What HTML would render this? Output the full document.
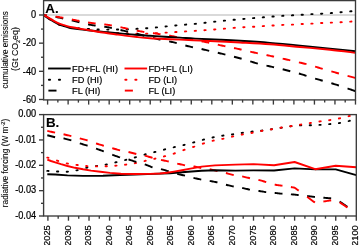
<!DOCTYPE html>
<html><head><meta charset="utf-8"><title>chart</title>
<style>html,body{margin:0;padding:0;background:#fff;width:359px;height:245px;overflow:hidden}svg{display:block;will-change:transform}</style>
</head><body>
<svg width="359" height="245" viewBox="0 0 359 245" font-family='"Liberation Sans", sans-serif'>
<style>text{stroke:#000;stroke-width:0.2px;paint-order:stroke;stroke-linejoin:round}</style>
<rect width="359" height="245" fill="#fff"/>
<line x1="43.6" y1="15" x2="355.5" y2="15" stroke="#b4b4b4" stroke-width="1.1"/>
<g clip-path="url(#clipA)">
<path d="M48.87,18.61 L49.52,19.08 L50.17,19.55 M58.59,24.26 L59.24,24.52 L59.89,24.76 M68.31,26.89 L68.96,27.01 L69.61,27.12 M78.03,28.22 L78.68,28.28 L79.33,28.34 M87.75,28.86 L88.40,28.90 L89.05,28.94 M97.47,29.46 L98.12,29.49 L98.77,29.51 M107.19,29.60 L107.84,29.60 L108.49,29.60 M116.91,29.53 L117.56,29.52 L118.21,29.50 M126.63,29.25 L127.28,29.23 L127.93,29.20 M136.35,28.85 L137.00,28.82 L137.65,28.78 M146.07,28.27 L146.72,28.23 L147.37,28.18 M155.79,27.48 L156.44,27.42 L157.09,27.36 M165.51,26.50 L166.16,26.43 L166.81,26.37 M175.23,25.50 L175.88,25.44 L176.53,25.38 M184.95,24.68 L185.60,24.62 L186.25,24.57 M194.67,23.92 L195.32,23.86 L195.97,23.80 M204.39,22.84 L205.04,22.76 L205.69,22.69 M214.11,21.74 L214.76,21.67 L215.41,21.60 M223.83,20.73 L224.48,20.67 L225.13,20.61 M233.55,19.81 L234.20,19.75 L234.85,19.70 M243.27,18.97 L243.92,18.92 L244.57,18.86 M252.99,18.17 L253.64,18.12 L254.29,18.07 M262.71,17.37 L263.36,17.31 L264.01,17.26 M272.43,16.57 L273.08,16.52 L273.73,16.47 M282.15,15.85 L282.80,15.81 L283.45,15.77 M291.87,15.35 L292.52,15.32 L293.17,15.28 M301.59,14.77 L302.24,14.73 L302.89,14.69 M311.31,14.16 L311.96,14.12 L312.61,14.09 M321.03,13.74 L321.68,13.71 L322.33,13.67 M330.75,13.08 L331.40,13.03 L332.05,12.98 M340.47,12.26 L341.12,12.21 L341.77,12.15 M350.19,11.37 L350.84,11.31 L351.49,11.24 " fill="none" stroke="#000" stroke-width="1.9" stroke-linecap="round"/>
<path d="M48.87,18.61 L49.52,19.08 L50.17,19.55 M58.59,24.25 L59.24,24.51 L59.89,24.76 M68.31,27.17 L68.96,27.31 L69.61,27.45 M78.03,28.74 L78.68,28.83 L79.33,28.91 M87.75,30.01 L88.40,30.09 L89.05,30.18 M97.47,31.29 L98.12,31.37 L98.77,31.45 M107.19,32.33 L107.84,32.39 L108.49,32.44 M116.91,32.97 L117.56,33.00 L118.21,33.04 M126.63,33.37 L127.28,33.39 L127.93,33.41 M136.35,33.59 L137.00,33.60 L137.65,33.60 M146.07,33.62 L146.72,33.61 L147.37,33.59 M155.79,33.25 L156.44,33.21 L157.09,33.18 M165.51,32.66 L166.16,32.62 L166.81,32.58 M175.23,32.07 L175.88,32.03 L176.53,31.99 M184.95,31.46 L185.60,31.42 L186.25,31.38 M194.67,30.89 L195.32,30.84 L195.97,30.80 M204.39,30.19 L205.04,30.14 L205.69,30.09 M214.11,29.50 L214.76,29.45 L215.41,29.40 M223.83,28.71 L224.48,28.66 L225.13,28.61 M233.55,27.90 L234.20,27.85 L234.85,27.80 M243.27,27.25 L243.92,27.21 L244.57,27.17 M252.99,26.75 L253.64,26.71 L254.29,26.68 M262.71,26.15 L263.36,26.11 L264.01,26.07 M272.43,25.55 L273.08,25.51 L273.73,25.47 M282.15,24.94 L282.80,24.90 L283.45,24.88 M291.87,24.64 L292.52,24.61 L293.17,24.58 M301.59,24.06 L302.24,24.02 L302.89,23.99 M311.31,23.65 L311.96,23.62 L312.61,23.59 M321.03,23.04 L321.68,23.01 L322.33,22.97 M330.75,22.64 L331.40,22.62 L332.05,22.59 M340.47,22.24 L341.12,22.20 L341.77,22.17 M350.19,21.65 L350.84,21.60 L351.49,21.56 " fill="none" stroke="#f00" stroke-width="1.9" stroke-linecap="round"/>
<path d="M43.60,15.00 L44.45,15.13 L45.29,15.26 L46.14,15.40 L46.98,15.53 M55.60,16.92 L56.55,17.11 L57.50,17.30 L58.45,17.49 L59.40,17.69 L60.35,17.89 L61.30,18.09 L62.25,18.30 L63.20,18.50 M71.82,20.45 L72.77,20.67 L73.72,20.89 L74.67,21.11 L75.62,21.34 L76.57,21.56 L77.52,21.79 L78.47,22.01 L79.42,22.25 M88.04,24.35 L88.99,24.55 L89.94,24.74 L90.89,24.93 L91.84,25.10 L92.79,25.26 L93.74,25.42 L94.69,25.55 L95.64,25.67 M104.26,26.75 L105.21,26.87 L106.16,27.01 L107.11,27.15 L108.06,27.31 L109.01,27.48 L109.96,27.67 L110.91,27.88 L111.86,28.09 M120.48,30.03 L121.43,30.24 L122.38,30.46 L123.33,30.67 L124.28,30.89 L125.23,31.10 L126.18,31.32 L127.13,31.53 L128.08,31.75 M136.70,33.79 L137.65,34.02 L138.60,34.25 L139.55,34.49 L140.50,34.73 L141.45,34.97 L142.40,35.21 L143.35,35.46 L144.30,35.71 M152.92,37.93 L153.87,38.17 L154.82,38.39 L155.77,38.62 L156.72,38.84 L157.67,39.05 L158.62,39.26 L159.57,39.47 L160.52,39.67 M169.14,41.41 L170.09,41.59 L171.04,41.78 L171.99,41.98 L172.94,42.19 L173.89,42.41 L174.84,42.64 L175.79,42.88 L176.74,43.13 M185.36,45.47 L186.31,45.73 L187.26,45.97 L188.21,46.21 L189.16,46.44 L190.11,46.65 L191.06,46.86 L192.01,47.06 L192.96,47.26 M201.58,49.05 L202.53,49.27 L203.48,49.48 L204.43,49.70 L205.38,49.92 L206.33,50.15 L207.28,50.37 L208.23,50.59 L209.18,50.81 M217.80,52.78 L218.75,53.00 L219.70,53.23 L220.65,53.46 L221.60,53.69 L222.55,53.92 L223.50,54.16 L224.45,54.40 L225.40,54.64 M234.02,56.78 L234.97,57.01 L235.92,57.24 L236.87,57.48 L237.82,57.72 L238.77,57.97 L239.72,58.22 L240.67,58.49 L241.62,58.76 M250.24,61.37 L251.19,61.65 L252.14,61.94 L253.09,62.23 L254.04,62.51 L254.99,62.80 L255.94,63.08 L256.89,63.35 L257.84,63.62 M266.46,65.65 L267.41,65.85 L268.36,66.05 L269.31,66.25 L270.26,66.46 L271.21,66.66 L272.16,66.87 L273.11,67.07 L274.06,67.27 M282.68,69.27 L283.63,69.51 L284.58,69.76 L285.53,70.02 L286.48,70.27 L287.43,70.52 L288.38,70.77 L289.33,71.02 L290.28,71.27 M298.90,73.49 L299.85,73.76 L300.80,74.04 L301.75,74.33 L302.70,74.63 L303.65,74.93 L304.60,75.24 L305.55,75.56 L306.50,75.87 M315.12,78.56 L316.07,78.84 L317.02,79.13 L317.97,79.41 L318.92,79.69 L319.87,79.96 L320.82,80.24 L321.77,80.50 L322.72,80.77 M331.34,83.20 L332.29,83.48 L333.24,83.76 L334.19,84.05 L335.14,84.34 L336.09,84.64 L337.04,84.94 L337.99,85.24 L338.94,85.55 M347.56,88.46 L348.51,88.79 L349.46,89.12 L350.41,89.45 L351.36,89.77 L352.31,90.10 L353.26,90.43 L354.21,90.76 L355.16,91.08 " fill="none" stroke="#000" stroke-width="1.9" stroke-linecap="butt"/>
<path d="M43.60,15.00 L44.45,15.12 L45.29,15.24 L46.14,15.36 L46.98,15.48 M55.60,16.65 L56.55,16.78 L57.50,16.91 L58.45,17.04 L59.40,17.19 L60.35,17.33 L61.30,17.48 L62.25,17.64 L63.20,17.81 M71.82,19.46 L72.77,19.65 L73.72,19.85 L74.67,20.04 L75.62,20.22 L76.57,20.41 L77.52,20.59 L78.47,20.77 L79.42,20.96 M88.04,22.45 L88.99,22.60 L89.94,22.75 L90.89,22.89 L91.84,23.02 L92.79,23.15 L93.74,23.27 L94.69,23.39 L95.64,23.50 M104.26,24.43 L105.21,24.53 L106.16,24.63 L107.11,24.74 L108.06,24.87 L109.01,25.01 L109.96,25.16 L110.91,25.32 L111.86,25.49 M120.48,27.22 L121.43,27.42 L122.38,27.62 L123.33,27.82 L124.28,28.02 L125.23,28.21 L126.18,28.41 L127.13,28.60 L128.08,28.80 M136.70,30.57 L137.65,30.76 L138.60,30.95 L139.55,31.14 L140.50,31.32 L141.45,31.50 L142.40,31.67 L143.35,31.84 L144.30,32.01 M152.92,33.20 L153.87,33.31 L154.82,33.42 L155.77,33.54 L156.72,33.66 L157.67,33.80 L158.62,33.94 L159.57,34.09 L160.52,34.25 M169.14,35.65 L170.09,35.80 L171.04,35.96 L171.99,36.12 L172.94,36.29 L173.89,36.46 L174.84,36.64 L175.79,36.83 L176.74,37.02 M185.36,38.66 L186.31,38.82 L187.26,38.98 L188.21,39.13 L189.16,39.28 L190.11,39.43 L191.06,39.58 L192.01,39.72 L192.96,39.87 M201.58,41.29 L202.53,41.46 L203.48,41.65 L204.43,41.83 L205.38,42.03 L206.33,42.22 L207.28,42.42 L208.23,42.63 L209.18,42.83 M217.80,44.73 L218.75,44.93 L219.70,45.14 L220.65,45.34 L221.60,45.53 L222.55,45.72 L223.50,45.91 L224.45,46.10 L225.40,46.28 M234.02,48.03 L234.97,48.23 L235.92,48.42 L236.87,48.62 L237.82,48.83 L238.77,49.03 L239.72,49.24 L240.67,49.45 L241.62,49.66 M250.24,51.65 L251.19,51.87 L252.14,52.08 L253.09,52.29 L254.04,52.51 L254.99,52.72 L255.94,52.93 L256.89,53.13 L257.84,53.34 M266.46,55.09 L267.41,55.27 L268.36,55.46 L269.31,55.66 L270.26,55.85 L271.21,56.06 L272.16,56.26 L273.11,56.47 L274.06,56.67 M282.68,58.61 L283.63,58.83 L284.58,59.05 L285.53,59.27 L286.48,59.49 L287.43,59.71 L288.38,59.93 L289.33,60.15 L290.28,60.36 M298.90,62.34 L299.85,62.56 L300.80,62.79 L301.75,63.02 L302.70,63.25 L303.65,63.48 L304.60,63.71 L305.55,63.94 L306.50,64.18 M315.12,66.61 L316.07,66.90 L317.02,67.20 L317.97,67.49 L318.92,67.78 L319.87,68.06 L320.82,68.34 L321.77,68.62 L322.72,68.90 M331.34,71.38 L332.29,71.65 L333.24,71.92 L334.19,72.19 L335.14,72.45 L336.09,72.72 L337.04,72.98 L337.99,73.25 L338.94,73.51 M347.56,75.85 L348.51,76.11 L349.46,76.37 L350.41,76.62 L351.36,76.88 L352.31,77.14 L353.26,77.39 L354.21,77.65 L355.16,77.91 " fill="none" stroke="#f00" stroke-width="1.9" stroke-linecap="butt"/>
<path d="M43.60,15.10 C44.03,15.40 45.32,16.32 46.20,16.90 C47.08,17.48 47.63,17.80 48.90,18.60 C50.17,19.40 51.95,20.67 53.80,21.70 C55.65,22.73 58.30,24.05 60.00,24.80 C61.70,25.55 62.67,25.78 64.00,26.20 C65.33,26.62 66.67,26.97 68.00,27.30 C69.33,27.63 70.00,27.85 72.00,28.20 C74.00,28.55 77.33,29.05 80.00,29.40 C82.67,29.75 85.50,30.03 88.00,30.30 C90.50,30.57 91.83,30.68 95.00,31.00 C98.17,31.32 102.83,31.80 107.00,32.20 C111.17,32.60 115.33,32.97 120.00,33.40 C124.67,33.83 130.00,34.40 135.00,34.80 C140.00,35.20 145.00,35.47 150.00,35.80 C155.00,36.13 160.00,36.50 165.00,36.80 C170.00,37.10 175.00,37.30 180.00,37.60 C185.00,37.90 188.33,38.25 195.00,38.60 C201.67,38.95 212.50,39.33 220.00,39.70 C227.50,40.07 231.67,40.27 240.00,40.80 C248.33,41.33 260.00,42.10 270.00,42.90 C280.00,43.70 290.00,44.65 300.00,45.60 C310.00,46.55 320.75,47.67 330.00,48.60 C339.25,49.53 351.25,50.77 355.50,51.20" fill="none" stroke="#000" stroke-width="1.9" stroke-linejoin="round"/>
<path d="M43.60,15.10 C44.03,15.33 45.32,16.03 46.20,16.50 C47.08,16.97 47.63,17.18 48.90,17.90 C50.17,18.62 51.95,19.82 53.80,20.80 C55.65,21.78 58.30,23.07 60.00,23.80 C61.70,24.53 62.67,24.77 64.00,25.20 C65.33,25.63 66.67,26.05 68.00,26.40 C69.33,26.75 70.00,26.92 72.00,27.30 C74.00,27.68 77.33,28.25 80.00,28.70 C82.67,29.15 85.50,29.58 88.00,30.00 C90.50,30.42 92.17,30.73 95.00,31.20 C97.83,31.67 101.67,32.30 105.00,32.80 C108.33,33.30 111.67,33.73 115.00,34.20 C118.33,34.67 121.33,35.13 125.00,35.60 C128.67,36.07 132.83,36.57 137.00,37.00 C141.17,37.43 145.33,37.87 150.00,38.20 C154.67,38.53 160.00,38.77 165.00,39.00 C170.00,39.23 174.17,39.33 180.00,39.60 C185.83,39.87 193.33,40.28 200.00,40.60 C206.67,40.92 213.33,41.18 220.00,41.50 C226.67,41.82 231.67,42.03 240.00,42.50 C248.33,42.97 260.00,43.55 270.00,44.30 C280.00,45.05 290.00,46.08 300.00,47.00 C310.00,47.92 320.75,48.85 330.00,49.80 C339.25,50.75 351.25,52.22 355.50,52.70" fill="none" stroke="#f00" stroke-width="1.9" stroke-linejoin="round"/>
</g>
<rect x="43.6" y="0.6" width="311.9" height="99.30000000000001" fill="none" stroke="#3a3a3a" stroke-width="1.35"/>
<line x1="39.0" y1="15.00" x2="43.6" y2="15.00" stroke="#3a3a3a" stroke-width="1.35"/>
<text transform="translate(36.2,18.25) scale(1,1.12)" font-size="9.25" text-anchor="end">0</text>
<line x1="39.0" y1="43.16" x2="43.6" y2="43.16" stroke="#3a3a3a" stroke-width="1.35"/>
<text transform="translate(36.2,46.41) scale(1,1.12)" font-size="9.25" text-anchor="end">-20</text>
<line x1="39.0" y1="71.32" x2="43.6" y2="71.32" stroke="#3a3a3a" stroke-width="1.35"/>
<text transform="translate(36.2,74.57) scale(1,1.12)" font-size="9.25" text-anchor="end">-40</text>
<line x1="39.0" y1="99.48" x2="43.6" y2="99.48" stroke="#3a3a3a" stroke-width="1.35"/>
<text transform="translate(36.2,102.73) scale(1,1.12)" font-size="9.25" text-anchor="end">-60</text>
<line x1="41.0" y1="29.08" x2="43.6" y2="29.08" stroke="#3a3a3a" stroke-width="1.35"/>
<line x1="41.0" y1="57.24" x2="43.6" y2="57.24" stroke="#3a3a3a" stroke-width="1.35"/>
<line x1="41.0" y1="85.40" x2="43.6" y2="85.40" stroke="#3a3a3a" stroke-width="1.35"/>
<line x1="47.60" y1="99.9" x2="47.60" y2="104.60000000000001" stroke="#3a3a3a" stroke-width="1.35"/>
<line x1="57.86" y1="99.9" x2="57.86" y2="102.60000000000001" stroke="#3a3a3a" stroke-width="1.35"/>
<line x1="68.12" y1="99.9" x2="68.12" y2="104.60000000000001" stroke="#3a3a3a" stroke-width="1.35"/>
<line x1="78.39" y1="99.9" x2="78.39" y2="102.60000000000001" stroke="#3a3a3a" stroke-width="1.35"/>
<line x1="88.65" y1="99.9" x2="88.65" y2="104.60000000000001" stroke="#3a3a3a" stroke-width="1.35"/>
<line x1="98.91" y1="99.9" x2="98.91" y2="102.60000000000001" stroke="#3a3a3a" stroke-width="1.35"/>
<line x1="109.18" y1="99.9" x2="109.18" y2="104.60000000000001" stroke="#3a3a3a" stroke-width="1.35"/>
<line x1="119.44" y1="99.9" x2="119.44" y2="102.60000000000001" stroke="#3a3a3a" stroke-width="1.35"/>
<line x1="129.70" y1="99.9" x2="129.70" y2="104.60000000000001" stroke="#3a3a3a" stroke-width="1.35"/>
<line x1="139.96" y1="99.9" x2="139.96" y2="102.60000000000001" stroke="#3a3a3a" stroke-width="1.35"/>
<line x1="150.23" y1="99.9" x2="150.23" y2="104.60000000000001" stroke="#3a3a3a" stroke-width="1.35"/>
<line x1="160.49" y1="99.9" x2="160.49" y2="102.60000000000001" stroke="#3a3a3a" stroke-width="1.35"/>
<line x1="170.75" y1="99.9" x2="170.75" y2="104.60000000000001" stroke="#3a3a3a" stroke-width="1.35"/>
<line x1="181.01" y1="99.9" x2="181.01" y2="102.60000000000001" stroke="#3a3a3a" stroke-width="1.35"/>
<line x1="191.28" y1="99.9" x2="191.28" y2="104.60000000000001" stroke="#3a3a3a" stroke-width="1.35"/>
<line x1="201.54" y1="99.9" x2="201.54" y2="102.60000000000001" stroke="#3a3a3a" stroke-width="1.35"/>
<line x1="211.80" y1="99.9" x2="211.80" y2="104.60000000000001" stroke="#3a3a3a" stroke-width="1.35"/>
<line x1="222.06" y1="99.9" x2="222.06" y2="102.60000000000001" stroke="#3a3a3a" stroke-width="1.35"/>
<line x1="232.33" y1="99.9" x2="232.33" y2="104.60000000000001" stroke="#3a3a3a" stroke-width="1.35"/>
<line x1="242.59" y1="99.9" x2="242.59" y2="102.60000000000001" stroke="#3a3a3a" stroke-width="1.35"/>
<line x1="252.85" y1="99.9" x2="252.85" y2="104.60000000000001" stroke="#3a3a3a" stroke-width="1.35"/>
<line x1="263.11" y1="99.9" x2="263.11" y2="102.60000000000001" stroke="#3a3a3a" stroke-width="1.35"/>
<line x1="273.38" y1="99.9" x2="273.38" y2="104.60000000000001" stroke="#3a3a3a" stroke-width="1.35"/>
<line x1="283.64" y1="99.9" x2="283.64" y2="102.60000000000001" stroke="#3a3a3a" stroke-width="1.35"/>
<line x1="293.90" y1="99.9" x2="293.90" y2="104.60000000000001" stroke="#3a3a3a" stroke-width="1.35"/>
<line x1="304.16" y1="99.9" x2="304.16" y2="102.60000000000001" stroke="#3a3a3a" stroke-width="1.35"/>
<line x1="314.43" y1="99.9" x2="314.43" y2="104.60000000000001" stroke="#3a3a3a" stroke-width="1.35"/>
<line x1="324.69" y1="99.9" x2="324.69" y2="102.60000000000001" stroke="#3a3a3a" stroke-width="1.35"/>
<line x1="334.95" y1="99.9" x2="334.95" y2="104.60000000000001" stroke="#3a3a3a" stroke-width="1.35"/>
<line x1="345.21" y1="99.9" x2="345.21" y2="102.60000000000001" stroke="#3a3a3a" stroke-width="1.35"/>
<line x1="355.48" y1="99.9" x2="355.48" y2="104.60000000000001" stroke="#3a3a3a" stroke-width="1.35"/>
<text x="45.3" y="12.75" font-size="13.4" font-weight="bold" style="stroke-width:0.1px">A.</text>
<line x1="48.1" y1="68.5" x2="70.7" y2="68.5" stroke="#000" stroke-width="1.9"/><text x="72.1" y="71.8" font-size="9.2">FD+FL (HI)</text>
<line x1="48.9" y1="79.7" x2="50.1" y2="79.7" stroke="#000" stroke-width="1.9" stroke-linecap="round"/><line x1="58.900000000000006" y1="79.7" x2="60.1" y2="79.7" stroke="#000" stroke-width="1.9" stroke-linecap="round"/><text x="72.1" y="83.0" font-size="9.2">FD (HI)</text>
<line x1="48.4" y1="90.6" x2="56.5" y2="90.6" stroke="#000" stroke-width="1.9"/><text x="72.1" y="93.89999999999999" font-size="9.2">FL (HI)</text>
<line x1="124.5" y1="68.5" x2="147.1" y2="68.5" stroke="#f00" stroke-width="1.9"/><text x="148.5" y="71.8" font-size="9.2">FD+FL (LI)</text>
<line x1="125.3" y1="79.7" x2="126.5" y2="79.7" stroke="#f00" stroke-width="1.9" stroke-linecap="round"/><line x1="135.3" y1="79.7" x2="136.5" y2="79.7" stroke="#f00" stroke-width="1.9" stroke-linecap="round"/><text x="148.5" y="83.0" font-size="9.2">FD (LI)</text>
<line x1="124.8" y1="90.6" x2="132.9" y2="90.6" stroke="#f00" stroke-width="1.9"/><text x="148.5" y="93.89999999999999" font-size="9.2">FL (LI)</text>
<text transform="translate(7.7,49.8) rotate(-90)" font-size="8.15" text-anchor="middle" style="stroke-width:0.1px">cumulative emissions</text>
<text transform="translate(17.6,49.0) rotate(-90)" font-size="8.9" text-anchor="middle" style="stroke-width:0.1px">(Gt CO<tspan font-size="5.6" dy="1.9" dx="-0.3">2</tspan><tspan dy="-1.9">eq)</tspan></text>
<g clip-path="url(#clipB)">
<path d="M47.25,170.90 L47.90,170.90 L48.55,170.94 M56.97,171.46 L57.62,171.50 L58.27,171.51 M66.69,171.68 L67.34,171.70 L67.99,171.63 M76.41,170.36 L77.06,170.27 L77.71,170.14 M86.13,167.86 L86.78,167.69 L87.43,167.55 M95.85,166.17 L96.50,166.07 L97.15,165.96 M105.57,164.65 L106.22,164.54 L106.87,164.41 M115.29,162.43 L115.94,162.28 L116.59,162.13 M125.01,160.08 L125.66,159.93 L126.31,159.77 M134.73,157.48 L135.38,157.31 L136.03,157.11 M144.45,154.62 L145.10,154.43 L145.75,154.26 M154.17,152.18 L154.82,152.02 L155.47,151.86 M163.89,149.66 L164.54,149.49 L165.19,149.33 M173.61,147.31 L174.26,147.16 L174.91,147.01 M183.33,145.11 L183.98,144.96 L184.63,144.82 M193.05,142.62 L193.70,142.45 L194.35,142.27 M202.77,139.87 L203.42,139.68 L204.07,139.51 M212.49,137.52 L213.14,137.37 L213.79,137.26 M222.21,135.73 L222.86,135.61 L223.51,135.53 M231.93,134.49 L232.58,134.41 L233.23,134.31 M241.65,132.94 L242.30,132.83 L242.95,132.74 M251.37,131.71 L252.02,131.63 L252.67,131.56 M261.09,130.69 L261.74,130.63 L262.39,130.54 M270.81,129.33 L271.46,129.23 L272.11,129.14 M280.53,127.85 L281.18,127.75 L281.83,127.65 M290.25,126.35 L290.90,126.25 L291.55,126.16 M299.97,125.31 L300.62,125.24 L301.27,125.20 M309.69,125.20 L310.34,125.20 L310.99,125.18 M319.41,124.92 L320.06,124.90 L320.71,124.86 M329.13,124.16 L329.78,124.11 L330.43,124.04 M338.85,123.09 L339.50,123.01 L340.15,122.88 M348.57,121.06 L349.22,120.92 L349.87,120.76 " fill="none" stroke="#000" stroke-width="1.9" stroke-linecap="round"/>
<path d="M47.25,157.60 L47.90,157.60 L48.55,157.81 M56.97,160.56 L57.62,160.77 L58.27,160.96 M66.69,163.37 L67.34,163.55 L67.99,163.67 M76.41,164.85 L77.06,164.94 L77.71,165.02 M86.13,165.99 L86.78,166.06 L87.43,166.11 M95.85,166.36 L96.50,166.38 L97.15,166.40 M105.57,166.22 L106.22,166.21 L106.87,166.18 M115.29,165.68 L115.94,165.64 L116.59,165.61 M125.01,164.73 L125.66,164.66 L126.31,164.58 M134.73,163.21 L135.38,163.10 L136.03,162.96 M144.45,161.07 L145.10,160.92 L145.75,160.77 M154.17,158.86 L154.82,158.71 L155.47,158.56 M163.89,156.45 L164.54,156.29 L165.19,156.12 M173.61,153.66 L174.26,153.47 L174.91,153.25 M183.33,150.22 L183.98,149.98 L184.63,149.75 M193.05,147.02 L193.70,146.81 L194.35,146.61 M202.77,143.72 L203.42,143.50 L204.07,143.29 M212.49,140.85 L213.14,140.67 L213.79,140.55 M222.21,138.93 L222.86,138.81 L223.51,138.66 M231.93,136.68 L232.58,136.53 L233.23,136.39 M241.65,134.67 L242.30,134.54 L242.95,134.42 M251.37,132.96 L252.02,132.85 L252.67,132.72 M261.09,130.99 L261.74,130.85 L262.39,130.74 M270.81,129.44 L271.46,129.34 L272.11,129.23 M280.53,127.77 L281.18,127.66 L281.83,127.55 M290.25,126.25 L290.90,126.15 L291.55,126.05 M299.97,124.73 L300.62,124.63 L301.27,124.52 M309.69,123.13 L310.34,123.03 L310.99,122.92 M319.41,121.53 L320.06,121.42 L320.71,121.33 M329.13,120.20 L329.78,120.12 L330.43,120.01 M338.85,118.53 L339.50,118.42 L340.15,118.26 M348.57,116.18 L349.22,116.02 L349.87,115.87 " fill="none" stroke="#f00" stroke-width="1.9" stroke-linecap="round"/>
<path d="M47.30,135.25 L48.27,135.50 L49.25,135.75 L50.22,136.00 L51.20,136.25 L52.17,136.50 L53.15,136.75 L54.12,137.00 L55.10,137.25 M63.54,138.29 L64.51,138.56 L65.49,138.82 L66.46,139.09 L67.44,139.36 L68.41,139.62 L69.39,139.89 L70.36,140.15 L71.34,140.42 M79.78,143.32 L80.75,143.63 L81.73,143.93 L82.70,144.23 L83.68,144.54 L84.65,144.84 L85.63,145.14 L86.60,145.45 L87.58,145.76 M96.02,148.60 L96.99,148.93 L97.97,149.29 L98.94,149.64 L99.92,149.99 L100.89,150.34 L101.87,150.69 L102.84,151.04 L103.82,151.42 M112.26,154.73 L113.23,155.08 L114.21,155.42 L115.18,155.77 L116.16,156.11 L117.13,156.46 L118.11,156.80 L119.08,157.15 L120.06,157.46 M128.50,159.45 L129.47,159.76 L130.45,160.08 L131.42,160.40 L132.40,160.72 L133.37,161.04 L134.35,161.36 L135.32,161.68 L136.30,162.00 M144.74,164.26 L145.71,164.65 L146.69,165.05 L147.66,165.44 L148.64,165.84 L149.61,166.23 L150.59,166.63 L151.56,167.02 L152.54,167.41 M160.98,169.06 L161.95,169.33 L162.93,169.62 L163.91,169.91 L164.88,170.21 L165.85,170.50 L166.83,170.80 L167.81,171.09 L168.78,171.38 M177.22,173.87 L178.19,174.09 L179.17,174.31 L180.15,174.53 L181.12,174.75 L182.09,174.98 L183.07,175.20 L184.05,175.42 L185.02,175.64 M193.46,177.90 L194.44,178.11 L195.41,178.32 L196.39,178.53 L197.36,178.74 L198.34,178.95 L199.31,179.16 L200.29,179.37 L201.26,179.56 M209.70,180.94 L210.68,181.12 L211.65,181.30 L212.63,181.49 L213.60,181.67 L214.58,181.86 L215.55,182.04 L216.53,182.22 L217.50,182.41 M225.94,184.77 L226.92,185.00 L227.89,185.22 L228.87,185.45 L229.84,185.68 L230.82,185.90 L231.79,186.13 L232.77,186.35 L233.74,186.55 M242.18,187.95 L243.16,188.16 L244.13,188.38 L245.11,188.59 L246.08,188.81 L247.06,189.02 L248.03,189.23 L249.01,189.45 L249.98,189.64 M258.42,190.87 L259.40,191.03 L260.37,191.20 L261.35,191.36 L262.32,191.52 L263.30,191.68 L264.27,191.84 L265.25,192.00 L266.22,192.10 M274.66,192.93 L275.64,193.04 L276.61,193.14 L277.59,193.25 L278.56,193.36 L279.54,193.46 L280.51,193.57 L281.49,193.68 L282.46,193.78 M290.90,194.35 L291.88,194.42 L292.85,194.48 L293.83,194.55 L294.80,194.62 L295.78,194.74 L296.75,194.85 L297.73,194.96 L298.70,195.08 M307.14,196.06 L308.12,196.17 L309.09,196.29 L310.07,196.40 L311.04,196.52 L312.02,196.63 L312.99,196.74 L313.97,196.86 L314.94,196.97 M323.38,197.72 L324.36,197.80 L325.33,197.89 L326.31,197.98 L327.28,198.06 L328.26,198.15 L329.23,198.23 L330.21,198.32 L331.18,198.40 M339.62,201.50 L340.60,202.17 L341.57,202.85 L342.55,203.52 L343.52,204.19 L344.50,204.86 L345.47,205.53 L346.45,206.21 L347.42,206.88 " fill="none" stroke="#000" stroke-width="1.9" stroke-linecap="butt"/>
<path d="M47.30,130.94 L48.27,131.16 L49.25,131.37 L50.22,131.59 L51.20,131.80 L52.17,132.01 L53.15,132.23 L54.12,132.44 L55.10,132.66 M63.54,134.28 L64.51,134.51 L65.49,134.75 L66.46,134.98 L67.44,135.21 L68.41,135.44 L69.39,135.68 L70.36,135.91 L71.34,136.14 M79.78,138.42 L80.75,138.67 L81.73,138.92 L82.70,139.17 L83.68,139.42 L84.65,139.67 L85.63,139.92 L86.60,140.17 L87.58,140.47 M96.02,143.42 L96.99,143.72 L97.97,144.01 L98.94,144.31 L99.92,144.61 L100.89,144.91 L101.87,145.20 L102.84,145.50 L103.82,145.79 M112.26,148.19 L113.23,148.46 L114.21,148.73 L115.18,149.01 L116.16,149.28 L117.13,149.55 L118.11,149.83 L119.08,150.10 L120.06,150.35 M128.50,152.03 L129.47,152.28 L130.45,152.53 L131.42,152.78 L132.40,153.03 L133.37,153.28 L134.35,153.52 L135.32,153.77 L136.30,154.02 M144.74,155.64 L145.71,155.91 L146.69,156.18 L147.66,156.45 L148.64,156.73 L149.61,157.00 L150.59,157.27 L151.56,157.54 L152.54,157.81 M160.98,159.85 L161.95,160.06 L162.93,160.28 L163.91,160.49 L164.88,160.70 L165.85,160.91 L166.83,161.12 L167.81,161.33 L168.78,161.54 M177.22,163.57 L178.19,163.80 L179.17,164.02 L180.15,164.25 L181.12,164.47 L182.09,164.69 L183.07,164.92 L184.05,165.14 L185.02,165.37 M193.46,166.30 L194.44,166.53 L195.41,166.75 L196.39,166.97 L197.36,167.19 L198.34,167.42 L199.31,167.64 L200.29,167.86 L201.26,168.05 M209.70,169.24 L210.68,169.44 L211.65,169.67 L212.63,169.91 L213.60,170.14 L214.58,170.38 L215.55,170.61 L216.53,170.85 L217.50,171.08 M225.94,173.04 L226.92,173.29 L227.89,173.55 L228.87,173.81 L229.84,174.08 L230.82,174.34 L231.79,174.60 L232.77,174.86 L233.74,175.12 M242.18,176.44 L243.16,176.63 L244.13,176.86 L245.11,177.09 L246.08,177.32 L247.06,177.55 L248.03,177.77 L249.01,178.00 L249.98,178.23 M258.42,179.82 L259.40,180.11 L260.37,180.39 L261.35,180.68 L262.32,180.96 L263.30,181.24 L264.27,181.53 L265.25,181.81 L266.22,182.12 M274.66,184.67 L275.64,184.81 L276.61,184.95 L277.59,185.10 L278.56,185.24 L279.54,185.38 L280.51,185.53 L281.49,185.67 L282.46,185.81 M290.90,187.06 L291.88,187.20 L292.85,187.34 L293.83,187.49 L294.80,187.75 L295.78,188.47 L296.75,189.19 L297.73,189.91 L298.70,190.63 M307.14,196.85 L308.12,197.57 L309.09,198.29 L310.07,199.01 L311.04,199.73 L312.02,200.45 L312.99,201.17 L313.97,201.89 L314.94,202.61 M323.38,201.52 L324.36,201.37 L325.33,201.22 L326.31,201.07 L327.28,200.91 L328.26,200.76 L329.23,200.61 L330.21,200.46 L331.18,200.31 M339.62,202.26 L340.60,202.93 L341.57,203.59 L342.55,204.25 L343.52,204.91 L344.50,205.58 L345.47,206.24 L346.45,206.90 L347.42,207.57 " fill="none" stroke="#f00" stroke-width="1.9" stroke-linecap="butt"/>
<path d="M47.30,174.20 L55.20,174.50 L67.50,175.40 L83.00,175.90 L103.00,175.80 L120.00,175.00 L135.00,174.60 L153.40,173.90 L170.00,173.20 L185.00,172.00 L201.60,170.80 L215.00,170.20 L235.40,170.60 L253.50,170.40 L274.10,170.50 L294.60,168.40 L315.20,169.40 L335.70,169.40 L356.30,175.10" fill="none" stroke="#000" stroke-width="1.9" stroke-linejoin="round"/>
<path d="M47.30,159.60 L51.00,161.00 L55.20,162.30 L61.00,164.20 L67.50,166.00 L75.00,167.80 L83.00,169.30 L91.00,170.60 L100.40,171.80 L110.00,172.90 L120.80,173.70 L135.00,174.00 L150.00,173.90 L160.00,173.50 L167.00,172.80 L174.00,171.60 L182.00,170.20 L190.40,168.60 L201.60,166.60 L215.00,165.40 L235.40,164.60 L253.50,164.10 L274.10,165.20 L294.60,162.00 L315.20,169.20 L335.70,165.70 L356.30,167.20" fill="none" stroke="#f00" stroke-width="1.9" stroke-linejoin="round"/>
</g>
<rect x="43.6" y="114.6" width="312.7" height="101.4" fill="none" stroke="#3a3a3a" stroke-width="1.35"/>
<line x1="39.0" y1="114.60" x2="43.6" y2="114.60" stroke="#3a3a3a" stroke-width="1.35"/>
<text transform="translate(36.2,117.40) scale(1,1.12)" font-size="9.25" text-anchor="end">0.00</text>
<line x1="41.0" y1="127.27" x2="43.6" y2="127.27" stroke="#3a3a3a" stroke-width="1.35"/>
<line x1="39.0" y1="139.95" x2="43.6" y2="139.95" stroke="#3a3a3a" stroke-width="1.35"/>
<text transform="translate(36.2,142.75) scale(1,1.12)" font-size="9.25" text-anchor="end">-0.01</text>
<line x1="41.0" y1="152.62" x2="43.6" y2="152.62" stroke="#3a3a3a" stroke-width="1.35"/>
<line x1="39.0" y1="165.30" x2="43.6" y2="165.30" stroke="#3a3a3a" stroke-width="1.35"/>
<text transform="translate(36.2,168.10) scale(1,1.12)" font-size="9.25" text-anchor="end">-0.02</text>
<line x1="41.0" y1="177.97" x2="43.6" y2="177.97" stroke="#3a3a3a" stroke-width="1.35"/>
<line x1="39.0" y1="190.65" x2="43.6" y2="190.65" stroke="#3a3a3a" stroke-width="1.35"/>
<text transform="translate(36.2,193.45) scale(1,1.12)" font-size="9.25" text-anchor="end">-0.03</text>
<line x1="41.0" y1="203.32" x2="43.6" y2="203.32" stroke="#3a3a3a" stroke-width="1.35"/>
<line x1="39.0" y1="216.00" x2="43.6" y2="216.00" stroke="#3a3a3a" stroke-width="1.35"/>
<text transform="translate(36.2,218.80) scale(1,1.12)" font-size="9.25" text-anchor="end">-0.04</text>
<line x1="47.90" y1="216.0" x2="47.90" y2="220.7" stroke="#3a3a3a" stroke-width="1.35"/>
<line x1="58.18" y1="216.0" x2="58.18" y2="218.7" stroke="#3a3a3a" stroke-width="1.35"/>
<text transform="translate(49.95,225.2) rotate(-90)" font-size="9.3" text-anchor="end">2025</text>
<line x1="68.46" y1="216.0" x2="68.46" y2="220.7" stroke="#3a3a3a" stroke-width="1.35"/>
<line x1="78.74" y1="216.0" x2="78.74" y2="218.7" stroke="#3a3a3a" stroke-width="1.35"/>
<text transform="translate(70.51,225.2) rotate(-90)" font-size="9.3" text-anchor="end">2030</text>
<line x1="89.02" y1="216.0" x2="89.02" y2="220.7" stroke="#3a3a3a" stroke-width="1.35"/>
<line x1="99.30" y1="216.0" x2="99.30" y2="218.7" stroke="#3a3a3a" stroke-width="1.35"/>
<text transform="translate(91.07,225.2) rotate(-90)" font-size="9.3" text-anchor="end">2035</text>
<line x1="109.58" y1="216.0" x2="109.58" y2="220.7" stroke="#3a3a3a" stroke-width="1.35"/>
<line x1="119.86" y1="216.0" x2="119.86" y2="218.7" stroke="#3a3a3a" stroke-width="1.35"/>
<text transform="translate(111.63,225.2) rotate(-90)" font-size="9.3" text-anchor="end">2040</text>
<line x1="130.14" y1="216.0" x2="130.14" y2="220.7" stroke="#3a3a3a" stroke-width="1.35"/>
<line x1="140.42" y1="216.0" x2="140.42" y2="218.7" stroke="#3a3a3a" stroke-width="1.35"/>
<text transform="translate(132.19,225.2) rotate(-90)" font-size="9.3" text-anchor="end">2045</text>
<line x1="150.70" y1="216.0" x2="150.70" y2="220.7" stroke="#3a3a3a" stroke-width="1.35"/>
<line x1="160.98" y1="216.0" x2="160.98" y2="218.7" stroke="#3a3a3a" stroke-width="1.35"/>
<text transform="translate(152.75,225.2) rotate(-90)" font-size="9.3" text-anchor="end">2050</text>
<line x1="171.26" y1="216.0" x2="171.26" y2="220.7" stroke="#3a3a3a" stroke-width="1.35"/>
<line x1="181.54" y1="216.0" x2="181.54" y2="218.7" stroke="#3a3a3a" stroke-width="1.35"/>
<text transform="translate(173.31,225.2) rotate(-90)" font-size="9.3" text-anchor="end">2055</text>
<line x1="191.82" y1="216.0" x2="191.82" y2="220.7" stroke="#3a3a3a" stroke-width="1.35"/>
<line x1="202.10" y1="216.0" x2="202.10" y2="218.7" stroke="#3a3a3a" stroke-width="1.35"/>
<text transform="translate(193.87,225.2) rotate(-90)" font-size="9.3" text-anchor="end">2060</text>
<line x1="212.38" y1="216.0" x2="212.38" y2="220.7" stroke="#3a3a3a" stroke-width="1.35"/>
<line x1="222.66" y1="216.0" x2="222.66" y2="218.7" stroke="#3a3a3a" stroke-width="1.35"/>
<text transform="translate(214.43,225.2) rotate(-90)" font-size="9.3" text-anchor="end">2065</text>
<line x1="232.94" y1="216.0" x2="232.94" y2="220.7" stroke="#3a3a3a" stroke-width="1.35"/>
<line x1="243.22" y1="216.0" x2="243.22" y2="218.7" stroke="#3a3a3a" stroke-width="1.35"/>
<text transform="translate(234.99,225.2) rotate(-90)" font-size="9.3" text-anchor="end">2070</text>
<line x1="253.50" y1="216.0" x2="253.50" y2="220.7" stroke="#3a3a3a" stroke-width="1.35"/>
<line x1="263.78" y1="216.0" x2="263.78" y2="218.7" stroke="#3a3a3a" stroke-width="1.35"/>
<text transform="translate(255.55,225.2) rotate(-90)" font-size="9.3" text-anchor="end">2075</text>
<line x1="274.06" y1="216.0" x2="274.06" y2="220.7" stroke="#3a3a3a" stroke-width="1.35"/>
<line x1="284.34" y1="216.0" x2="284.34" y2="218.7" stroke="#3a3a3a" stroke-width="1.35"/>
<text transform="translate(276.11,225.2) rotate(-90)" font-size="9.3" text-anchor="end">2080</text>
<line x1="294.62" y1="216.0" x2="294.62" y2="220.7" stroke="#3a3a3a" stroke-width="1.35"/>
<line x1="304.90" y1="216.0" x2="304.90" y2="218.7" stroke="#3a3a3a" stroke-width="1.35"/>
<text transform="translate(296.67,225.2) rotate(-90)" font-size="9.3" text-anchor="end">2085</text>
<line x1="315.18" y1="216.0" x2="315.18" y2="220.7" stroke="#3a3a3a" stroke-width="1.35"/>
<line x1="325.46" y1="216.0" x2="325.46" y2="218.7" stroke="#3a3a3a" stroke-width="1.35"/>
<text transform="translate(317.23,225.2) rotate(-90)" font-size="9.3" text-anchor="end">2090</text>
<line x1="335.74" y1="216.0" x2="335.74" y2="220.7" stroke="#3a3a3a" stroke-width="1.35"/>
<line x1="346.02" y1="216.0" x2="346.02" y2="218.7" stroke="#3a3a3a" stroke-width="1.35"/>
<text transform="translate(337.79,225.2) rotate(-90)" font-size="9.3" text-anchor="end">2095</text>
<line x1="356.30" y1="216.0" x2="356.30" y2="220.7" stroke="#3a3a3a" stroke-width="1.35"/>
<text transform="translate(358.35,225.2) rotate(-90)" font-size="9.3" text-anchor="end">2100</text>
<text x="45.9" y="126.5" font-size="13.4" font-weight="bold" style="stroke-width:0.1px">B.</text>
<text transform="translate(8.4,163.0) rotate(-90)" font-size="8.3" text-anchor="middle" style="stroke-width:0.1px">radiative forcing (W m<tspan font-size="5.6" dy="-3.2">-2</tspan><tspan dy="3.2">)</tspan></text>
<defs>
<clipPath id="clipA"><rect x="43.6" y="0.6" width="311.9" height="99.30000000000001"/></clipPath>
<clipPath id="clipB"><rect x="43.6" y="114.6" width="312.7" height="101.4"/></clipPath>
</defs>
</svg>
</body></html>
